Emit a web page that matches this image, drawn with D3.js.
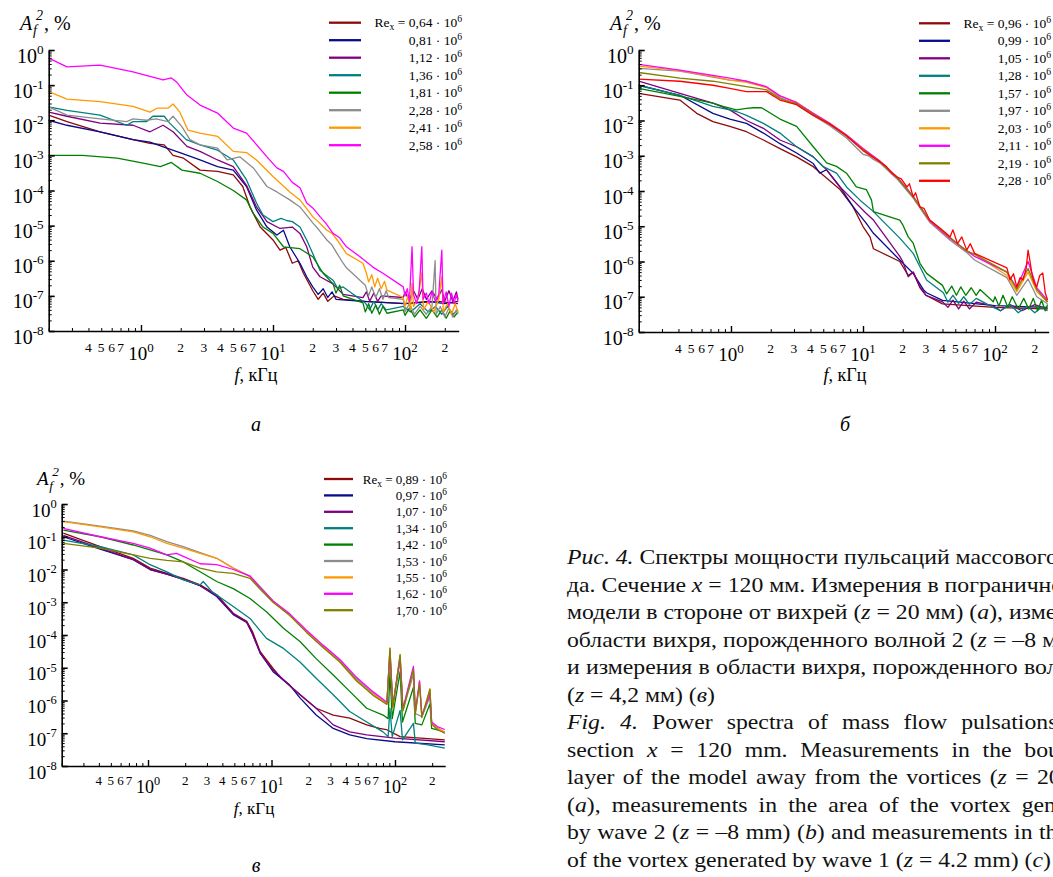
<!DOCTYPE html>
<html>
<head>
<meta charset="utf-8">
<script src="https://cdn.jsdelivr.net/npm/d3@7"></script>
<style>
  body { margin: 0; overflow: hidden; background: #fff; }
  svg { position: absolute; left: 0; top: 0; font-family: "Liberation Serif", "Times New Roman", serif; }
  .cap { position: absolute; left: 567px; top: 544px; width: 484px; font-family: "Liberation Serif", "Times New Roman", serif;
         font-size: 21px; line-height: 27.5px; color: #111; transform: scaleX(1.13); transform-origin: 0 0; }
  .cap div { text-align: justify; text-align-last: justify; white-space: nowrap; height: 27.5px; }
  .cap div.last { text-align-last: left; }
</style>
</head>
<body>
<svg id="chart" width="1053" height="877"></svg>
<div class="cap" id="caption"></div>
<script>
// ---- data: [f, kHz ; A_f^2, %] ----
var colorsA = ['#8b0a0a', '#0a0a8a', '#800080', '#008080', '#008000', '#8c8c8c', '#ff9900', '#ff00ff'];
var colorsB = ['#8b0a0a', '#0a0a8a', '#800080', '#008080', '#008000', '#8c8c8c', '#ff9900', '#ff00ff', '#808000', '#ff0000'];
var colorsC = ['#8b0a0a', '#0a0a8a', '#800080', '#008080', '#008000', '#8c8c8c', '#ff9900', '#ff00ff', '#808000'];

var reA = ['0,64', '0,81', '1,12', '1,36', '1,81', '2,28', '2,41', '2,58'];
var reB = ['0,96', '0,99', '1,05', '1,28', '1,57', '1,97', '2,03', '2,11', '2,19', '2,28'];
var reC = ['0,89', '0,97', '1,07', '1,34', '1,42', '1,53', '1,55', '1,62', '1,70'];

var seriesA = [
  // 0,64
  [[0.2,1.4e-2],[0.275,9.1e-3],[0.49,4.7e-3],[0.87,2.8e-3],[1.17,2.2e-3],[1.5,2.0e-3],[1.75,1.0e-3],[2.1,8.3e-4],[2.8,3.8e-4],[3.8,3.5e-4],[5,2.8e-4],[5.9,1.3e-4],[6.7,3.4e-5],[8,9.1e-6],[10,3.9e-6],[11.3,2.0e-6],[12.5,2.4e-6],[14,8.5e-7],[15.5,1.0e-6],[17,4.4e-7],[20,1.4e-7],[22,8e-8],[24,1.2e-7],[26,7e-8],[29,1.0e-7],[34,8e-8],[50,7e-8],[100,6e-8],[180,7e-8],[252,6e-8]],
  // 0,81
  [[0.2,1.0e-2],[0.275,7.2e-3],[0.49,4.7e-3],[0.87,2.8e-3],[1.17,2.4e-3],[1.57,1.6e-3],[1.97,1.2e-3],[2.8,7.4e-4],[3.8,4.8e-4],[5,3.8e-4],[6.3,1.3e-4],[7.5,2.8e-5],[9,9.1e-6],[10.7,5.4e-6],[12,7.4e-6],[13.4,2.5e-6],[16,8.5e-7],[18,3.5e-7],[20,1.8e-7],[22,1.1e-7],[24,1.6e-7],[26,9e-8],[28,1.3e-7],[30,8e-8],[48,7e-8],[100,6e-8],[150,7e-8],[200,6e-8],[252,7e-8]],
  // 1,12
  [[0.2,1.7e-2],[0.275,1.3e-2],[0.49,8.3e-3],[0.87,7.2e-3],[1.17,4.7e-3],[1.47,7.2e-3],[1.75,4.7e-3],[2.23,1.8e-3],[2.8,1.3e-3],[3.8,7.4e-4],[5,4.8e-4],[6.3,1.4e-4],[7.5,3.4e-5],[9,1.3e-5],[11.3,8.3e-6],[14,9.1e-6],[16,6.0e-6],[18,2.5e-6],[20,6.6e-7],[22.7,3.5e-7],[28.5,2.2e-7],[34,1.1e-7],[48,8.9e-8],[51,1.3e-7],[54,7e-8],[58,1.2e-7],[62,7e-8],[66,1.0e-7],[97,9e-8],[100,1.3e-7],[108,7e-8],[115,1.5e-7],[125,8e-8],[135,1.6e-7],[145,8e-8],[160,1.4e-7],[175,8e-8],[190,1.5e-7],[200,7e-8],[215,1.4e-7],[230,7e-8],[245,1.3e-7],[252,8e-8]],
  // 1,36
  [[0.2,2.4e-2],[0.275,1.9e-2],[0.49,1.4e-2],[0.78,7.2e-3],[0.87,9.1e-3],[1.1,9.1e-3],[1.23,1.3e-2],[1.5,1.3e-2],[1.65,8.3e-3],[1.97,4.3e-3],[2.2,2.8e-3],[2.8,2.0e-3],[3.8,1.4e-3],[5,7.4e-4],[6.3,2.0e-4],[7.5,4.4e-5],[8.4,2.0e-5],[10,1.3e-5],[11.5,1.6e-5],[12.7,1.4e-5],[14,1.3e-5],[16,9.1e-6],[18,3.9e-6],[20,1.6e-6],[22.7,5.4e-7],[25,4e-7],[28.5,2.8e-7],[31,1.6e-7],[34,1.8e-7],[50,6.3e-8],[54,4e-8],[58,7e-8],[62,4e-8],[66,6e-8],[72,4e-8],[97,5e-8],[110,3.5e-8],[130,6e-8],[150,3.5e-8],[170,5e-8],[190,3e-8],[210,5e-8],[230,3e-8],[252,4e-8]],
  // 1,81
  [[0.2,1.0e-3],[0.36,1.0e-3],[0.66,8.3e-4],[1.04,6.0e-4],[1.4,4.8e-4],[1.7,6.3e-4],[2.04,3.8e-4],[2.8,3.1e-4],[3.8,1.8e-4],[5,1.0e-4],[6.3,5.4e-5],[7.1,2.2e-5],[8.4,9.1e-6],[10,6.0e-6],[12,2.5e-6],[16,2.2e-6],[20,1.3e-6],[24,4.4e-7],[28.5,2.2e-7],[30,1.2e-7],[32,2.0e-7],[34,1.0e-7],[48,6.3e-8],[50,3.5e-8],[53,6e-8],[56,3.2e-8],[60,5.5e-8],[64,3e-8],[68,5e-8],[73,3.2e-8],[97,4e-8],[100,2.8e-8],[108,4.5e-8],[118,2.5e-8],[130,4e-8],[145,2.3e-8],[160,4e-8],[175,2.5e-8],[190,4e-8],[205,2.3e-8],[220,3.8e-8],[235,2.5e-8],[252,3.5e-8]],
  // 2,28
  [[0.2,2.4e-2],[0.275,1.4e-2],[0.49,1.1e-2],[0.78,9.1e-3],[0.87,1.1e-2],[1.1,1.0e-2],[1.3,1.1e-2],[1.6,9.1e-3],[1.75,1.3e-2],[2.04,6.6e-3],[2.35,2.8e-3],[2.8,2.0e-3],[3.8,1.6e-3],[4.5,7.4e-4],[5.6,9.1e-4],[7.1,4.4e-4],[9,1.3e-4],[10.7,9.1e-5],[13.4,5.4e-5],[16,3.4e-5],[20,1.2e-5],[22,8e-6],[25.6,3.9e-6],[28,2.8e-6],[30.6,1.6e-6],[34,8.5e-7],[36,6.3e-7],[50,2.0e-7],[53,1.0e-7],[56,1.8e-7],[60,9e-8],[64,1.6e-7],[68,8e-8],[72,1.4e-7],[75,9e-8],[97,8e-8],[100,3.5e-8],[108,6e-8],[118,3e-8],[130,5e-8],[145,3e-8],[160,5e-8],[169,1.0e-6],[172,3e-8],[185,5e-8],[200,2.5e-8],[215,4.5e-8],[230,2.5e-8],[245,4e-8],[252,3e-8]],
  // 2,41
  [[0.2,6.5e-2],[0.275,4.0e-2],[0.49,3.4e-2],[0.87,2.5e-2],[1.17,1.7e-2],[1.32,2.2e-2],[1.6,2.2e-2],[1.75,2.9e-2],[1.97,1.7e-2],[2.27,5.2e-3],[2.8,4.3e-3],[3.8,3.5e-3],[5,1.3e-3],[6.3,1.2e-3],[7.5,7.4e-4],[10,2.5e-4],[13.4,9.1e-5],[16,5.4e-5],[20,1.8e-5],[22,1.3e-5],[25.6,7.4e-6],[28,6e-6],[30.6,3.9e-6],[36,1.6e-6],[48,8.5e-7],[51,4.4e-7],[53,2.5e-7],[56,4e-7],[59,1.8e-7],[62,3.2e-7],[66,1.6e-7],[70,2.6e-7],[73,1.45e-7],[97,9e-8],[100,5e-8],[105,1.0e-7],[110,4e-8],[113,2.3e-7],[116,5e-8],[125,8e-8],[134,4.5e-7],[138,4e-8],[150,7e-8],[165,3.5e-8],[180,8e-8],[190,3.5e-7],[195,3.5e-8],[210,6e-8],[225,3e-8],[240,6e-8],[252,3.5e-8]],
  // 2,58
  [[0.2,5.9e-1],[0.275,3.3e-1],[0.49,3.7e-1],[0.87,2.4e-1],[1.47,1.4e-1],[1.7,1.6e-1],[1.87,1.2e-1],[2.23,5.2e-2],[2.8,2.7e-2],[3.8,1.6e-2],[5,6.0e-3],[6.3,4.3e-3],[9,9.1e-4],[10.7,4.4e-4],[12,3.5e-4],[14,1.7e-4],[16,1.2e-4],[18,4.4e-5],[20,3.2e-5],[22.7,1.8e-5],[25,1.2e-5],[28.5,6.0e-6],[32,4.5e-6],[36,2.5e-6],[45.6,1.3e-6],[57,6.6e-7],[68,4.4e-7],[97,1.8e-7],[100,1.0e-7],[104,1.6e-7],[108,7e-8],[113,2.5e-6],[116,1.1e-7],[122,6e-8],[128,1.4e-7],[134,2.5e-6],[137,8e-8],[145,1.2e-7],[152,6e-8],[160,1.3e-7],[170,7e-8],[180,1.1e-7],[190,2.0e-6],[194,6e-8],[205,1.3e-7],[215,5e-8],[225,1.2e-7],[235,6e-8],[245,1.1e-7],[252,7e-8]]
];

var seriesB = [
  // 0,96
  [[0.2,5.9e-2],[0.41,3.8e-2],[0.55,1.6e-2],[0.73,9.3e-3],[0.98,6.8e-3],[1.31,4.8e-3],[1.76,2.8e-3],[2.35,1.6e-3],[3.14,9.3e-4],[4.2,4.9e-4],[5,2.8e-4],[6.7,1.1e-4],[8.4,3.6e-5],[10,9.8e-6],[11.3,5.0e-6],[12,2.3e-6],[19,1.0e-6],[22,4.0e-7],[24,5.0e-7],[27,1.8e-7],[30,1.1e-7],[40,6.3e-8],[100,5e-8],[250,4.5e-8]],
  // 0,99
  [[0.2,1.0e-1],[0.41,5.2e-2],[0.73,1.6e-2],[0.98,1.1e-2],[1.31,8.3e-3],[1.76,4.4e-3],[2.35,2.2e-3],[3.14,1.2e-3],[4.2,6.0e-4],[4.7,3.2e-4],[5.3,4.0e-4],[6.7,1.3e-4],[8.4,3.6e-5],[10.6,1.2e-5],[12,6.3e-6],[19,1.1e-6],[24,4.6e-7],[29,1.5e-7],[30.3,1.3e-7],[40,7.9e-8],[100,5.6e-8],[250,5.0e-8]],
  // 1,05
  [[0.2,1.3e-1],[0.41,5.9e-2],[0.73,3.1e-2],[0.98,2.0e-2],[1.31,1.0e-2],[1.76,6.0e-3],[2.35,2.8e-3],[3.14,1.8e-3],[4.2,9.3e-4],[5.3,4.0e-4],[6.7,1.3e-4],[8.4,5.5e-5],[10.6,2.3e-5],[12,1.5e-5],[19,1.4e-6],[20,1.0e-6],[22,3.7e-7],[24,5.0e-7],[27,1.9e-7],[30,1.1e-7],[40,7.2e-8],[44,5e-8],[48,8e-8],[53,4.5e-8],[58,7.5e-8],[64,4.5e-8],[72,7e-8],[97,5.5e-8],[110,4e-8],[130,6e-8],[160,4e-8],[200,6e-8],[250,4.5e-8]],
  // 1,28
  [[0.2,1.0e-1],[0.41,5.2e-2],[0.73,2.5e-2],[0.98,2.0e-2],[1.1,1.8e-2],[1.31,1.4e-2],[1.76,8.3e-3],[2.35,4.4e-3],[3.14,1.8e-3],[4.2,9.3e-4],[5,4.9e-4],[6.3,3.2e-4],[7.5,1.3e-4],[9.5,5.5e-5],[12,2.6e-5],[19,4.6e-6],[24,1.7e-6],[27,7.1e-7],[30.3,3.0e-7],[40.6,1.3e-7],[44,7e-8],[48,1.1e-7],[53,6.5e-8],[58,1.0e-7],[64,6e-8],[72,9e-8],[97,5e-8],[110,4e-8],[130,6e-8],[150,3.5e-8],[175,5.5e-8],[200,3.5e-8],[225,5e-8],[250,4e-8]],
  // 1,57
  [[0.2,8.1e-2],[0.41,4.8e-2],[0.73,3.1e-2],[0.87,2.5e-2],[1.1,2.0e-2],[1.31,2.2e-2],[1.48,2.3e-2],[1.7,2.3e-2],[2.35,1.1e-2],[3.14,6.8e-3],[4.2,1.8e-3],[5.3,6.3e-4],[6.3,5.0e-4],[7.5,3.2e-4],[8.9,1.3e-4],[10.6,1.1e-4],[11.6,5.5e-5],[12,2.6e-5],[19,1.5e-5],[20,1.1e-5],[22,5.0e-6],[24,3.3e-6],[27,8.9e-7],[30.3,4.6e-7],[40,2.1e-7],[43,1.2e-7],[47,2e-7],[51,1.1e-7],[55,1.9e-7],[60,1.1e-7],[66,1.8e-7],[72,1.1e-7],[77,1.6e-7],[97,7.2e-8],[100,1.0e-7],[107,5.5e-8],[115,1.1e-7],[125,5e-8],[135,1.0e-7],[150,4.5e-8],[165,9e-8],[180,4.5e-8],[195,9e-8],[210,4e-8],[225,8e-8],[240,4e-8],[250,6e-8]],
  // 1,97
  [[0.2,3.0e-1],[0.41,2.5e-1],[0.73,1.7e-1],[0.98,1.4e-1],[1.31,1.3e-1],[1.86,8.7e-2],[2.35,4.5e-2],[3.14,2.8e-2],[4.2,1.4e-2],[5.6,7.1e-3],[7.5,3.2e-3],[10,1.1e-3],[11,1.0e-3],[12,7.9e-4],[13.4,6.3e-4],[18.1,2.2e-4],[24,6.3e-5],[32,1.3e-5],[45.7,4.0e-6],[61,1.8e-6],[70,1.1e-6],[123,3.5e-7],[146,1.1e-7],[178,3.2e-7],[207,1.0e-7],[250,6.3e-8]],
  // 2,03
  [[0.2,3.5e-1],[0.41,2.6e-1],[0.73,1.8e-1],[0.98,1.4e-1],[1.31,1.2e-1],[1.86,8.7e-2],[2.35,5.0e-2],[3.14,3.3e-2],[4.2,1.6e-2],[5.6,8.3e-3],[7.5,3.9e-3],[10,1.6e-3],[13.4,7.1e-4],[18.1,2.5e-4],[24,7.1e-5],[32,1.4e-5],[45.7,4.5e-6],[61,2.0e-6],[70,1.6e-6],[123,4.0e-7],[146,1.4e-7],[178,5.0e-7],[207,1.4e-7],[250,7.1e-8]],
  // 2,11
  [[0.2,3.9e-1],[0.41,2.7e-1],[0.73,1.9e-1],[0.98,1.6e-1],[1.31,1.3e-1],[1.86,9.1e-2],[2.35,5.0e-2],[3.14,3.2e-2],[4.2,1.6e-2],[5.6,8.3e-3],[7.5,3.9e-3],[10,1.6e-3],[13.4,7.1e-4],[18.1,2.5e-4],[24,7.1e-5],[32,1.4e-5],[45.7,4.5e-6],[61,2.0e-6],[70,1.4e-6],[123,5.0e-7],[146,1.8e-7],[178,1.0e-6],[207,1.8e-7],[250,7.9e-8]],
  // 2,19
  [[0.2,2.3e-1],[0.41,1.6e-1],[0.73,1.3e-1],[1.31,9.1e-2],[1.86,7.4e-2],[2.35,4.2e-2],[3.14,3.0e-2],[4.2,1.5e-2],[5.6,7.9e-3],[7.5,3.6e-3],[10,1.5e-3],[13.4,6.8e-4],[18.1,2.4e-4],[24,6.8e-5],[32,1.5e-5],[45.7,4.8e-6],[61,2.0e-6],[70,1.6e-6],[123,5.0e-7],[146,1.6e-7],[178,6.3e-7],[207,1.6e-7],[250,7.1e-8]],
  // 2,28
  [[0.2,1.5e-1],[0.41,1.3e-1],[0.73,1.0e-1],[0.98,8.1e-2],[1.31,6.6e-2],[1.86,6.6e-2],[2.35,3.8e-2],[3.14,2.8e-2],[4.2,1.4e-2],[5.6,7.9e-3],[7.5,3.7e-3],[10,1.4e-3],[13.4,6.8e-4],[15,5.0e-4],[16.5,3.2e-4],[18.1,2.5e-4],[19.5,2.2e-4],[21.5,1.3e-4],[22.5,1.6e-4],[24,6.8e-5],[25,8.9e-5],[27,3.5e-5],[29,3.2e-5],[32,1.5e-5],[38,9e-6],[45.7,5.0e-6],[48,7.9e-6],[52,3.2e-6],[56,5.0e-6],[61,2.1e-6],[65,3.2e-6],[70,1.7e-6],[123,6.6e-7],[130,3.0e-7],[138,4.5e-7],[146,1.9e-7],[155,3.5e-7],[163,3.0e-7],[172,6.3e-7],[178,2.1e-6],[182,1.3e-6],[190,4.7e-7],[198,2.5e-7],[207,1.9e-7],[218,4.0e-7],[230,4.7e-7],[240,1.3e-7],[250,8.1e-8]]
];

var seriesC = [
  // 0,89
  [[0.206,1.3e-1],[0.41,5.0e-2],[0.76,2.2e-2],[1.04,1.1e-2],[1.42,7.6e-3],[1.93,5.4e-3],[2.64,3.4e-3],[3.6,1.7e-3],[4.9,4.6e-4],[6.3,2.6e-4],[7,1.3e-4],[8.1,3.1e-5],[10.3,9.5e-6],[12,4.8e-6],[15,2.3e-6],[17,1.5e-6],[23,5.8e-7],[31.6,3.6e-7],[43,2.9e-7],[59,1.8e-7],[75,1.4e-7],[85,1.3e-7],[110,7.9e-8],[253,6.3e-8]],
  // 0,97
  [[0.206,1.0e-1],[0.41,4.2e-2],[0.76,2.0e-2],[1.04,1.0e-2],[1.42,7.2e-3],[1.93,5.0e-3],[2.64,3.2e-3],[3.6,1.5e-3],[4.9,4.2e-4],[6.3,2.4e-4],[7,1.1e-4],[8.1,2.8e-5],[10.3,7.6e-6],[14,3.0e-6],[17,1.2e-6],[23,3.6e-7],[31.6,1.4e-7],[43,8.9e-8],[59,6.9e-8],[100,5.5e-8],[253,4.4e-8]],
  // 1,07
  [[0.206,1.1e-1],[0.41,4.5e-2],[0.76,2.0e-2],[1.04,1.0e-2],[1.42,7.2e-3],[1.93,5.0e-3],[2.64,3.2e-3],[3.6,1.6e-3],[4.9,4.4e-4],[6.3,2.5e-4],[7,1.1e-4],[8.1,2.8e-5],[10.3,8.5e-6],[15,2.3e-6],[23,5.8e-7],[31.6,1.8e-7],[43,1.1e-7],[59,8.9e-8],[100,7.1e-8],[253,5.5e-8]],
  // 1,34
  [[0.206,7.9e-2],[0.41,5.0e-2],[0.76,2.8e-2],[1.04,1.4e-2],[1.42,8.5e-3],[1.93,4.8e-3],[2.64,3.4e-3],[2.8,4.3e-3],[3.3,2.1e-3],[4.9,7.4e-4],[6.7,3.2e-4],[9.1,7.9e-5],[12.5,3.9e-5],[17,1.5e-5],[23,4.8e-6],[31.6,1.5e-6],[43,4.6e-7],[59,2.2e-7],[80,1.1e-7],[88,7.9e-8],[91,5.8e-7],[95,7.9e-8],[110,5.0e-7],[115,6.3e-8],[141,2.0e-7],[146,5.0e-8],[180,4.5e-8],[253,3.5e-8]],
  // 1,42
  [[0.206,1.6e-1],[0.41,1.0e-1],[0.76,5.6e-2],[1.04,4.0e-2],[1.42,2.8e-2],[1.93,1.7e-2],[2.64,8.5e-3],[3.6,4.3e-3],[4.9,2.6e-3],[6.7,1.3e-3],[9.1,5.1e-4],[12.5,1.6e-4],[17,6.3e-5],[23,1.9e-5],[31.6,6.0e-6],[43,1.9e-6],[59,5.8e-7],[80,3.6e-7],[88,2.8e-7],[91,7.6e-6],[95,2.8e-7],[110,7.6e-6],[115,2.2e-7],[141,2.5e-6],[146,2.0e-7],[165,1.8e-7],[192,7.9e-7],[198,1.4e-7],[253,1.1e-7]],
  // 1,53
  [[0.206,3.0e-1],[0.41,2.1e-1],[0.76,1.5e-1],[1.04,1.1e-1],[1.42,7.1e-2],[1.93,5.0e-2],[2.64,3.3e-2],[3.6,2.2e-2],[4.9,1.1e-2],[6.7,6.3e-3],[8.1,3.0e-3],[10.3,1.1e-3],[14,4.1e-4],[19.2,1.3e-4],[26,4.7e-5],[35.8,1.7e-5],[49,4.5e-6],[67,1.6e-6],[86,7.9e-7],[91,2.5e-5],[96,6.3e-7],[110,1.6e-5],[116,5.0e-7],[141,6.3e-6],[146,4.0e-7],[165,3.2e-7],[192,1.3e-6],[198,2.0e-7],[253,1.0e-7]],
  // 1,55
  [[0.206,2.9e-1],[0.41,2.0e-1],[0.76,1.4e-1],[1.04,1.0e-1],[1.42,6.3e-2],[1.93,4.5e-2],[2.64,3.1e-2],[3.6,2.2e-2],[4.9,1.1e-2],[6.7,6.0e-3],[8.1,2.6e-3],[10.3,1.0e-3],[14,4.1e-4],[19.2,1.3e-4],[26,4.4e-5],[35.8,1.5e-5],[49,3.8e-6],[67,1.5e-6],[86,8.1e-7],[91,4.0e-5],[96,6.3e-7],[110,2.5e-5],[116,5.0e-7],[141,9.5e-6],[146,4.0e-7],[158,3.8e-6],[165,3.2e-7],[192,2.3e-6],[198,2.0e-7],[220,1.4e-7],[253,1.1e-7]],
  // 1,62
  [[0.206,1.8e-1],[0.41,1.0e-1],[0.76,6.3e-2],[1.04,4.5e-2],[1.42,2.8e-2],[1.7,3.1e-2],[1.93,2.5e-2],[2.64,1.5e-2],[3.6,1.4e-2],[4.9,1.0e-2],[6.7,6.3e-3],[8.1,2.8e-3],[10.3,1.1e-3],[14,4.5e-4],[19.2,1.4e-4],[26,5.0e-5],[35.8,1.8e-5],[49,5.0e-6],[67,1.8e-6],[86,8.9e-7],[91,3.2e-5],[96,7.1e-7],[110,2.0e-5],[116,5.6e-7],[141,1.1e-5],[146,4.5e-7],[158,4.0e-6],[165,3.5e-7],[192,1.6e-6],[198,2.2e-7],[220,1.6e-7],[253,1.3e-7]],
  // 1,70
  [[0.206,6.3e-2],[0.41,4.5e-2],[0.76,2.8e-2],[1.04,2.2e-2],[1.42,1.9e-2],[1.93,1.7e-2],[2.64,1.1e-2],[3.6,8.5e-3],[4.9,7.6e-3],[6.7,5.4e-3],[8.1,2.5e-3],[10.3,1.0e-3],[14,4.0e-4],[19.2,1.2e-4],[26,4.2e-5],[35.8,1.5e-5],[49,4.0e-6],[67,1.4e-6],[86,7.6e-7],[91,4.0e-5],[96,6.0e-7],[110,2.5e-5],[116,4.8e-7],[141,8.9e-6],[146,3.8e-7],[158,3.2e-6],[165,3.0e-7],[192,2.2e-6],[198,1.9e-7],[220,1.3e-7],[253,1.0e-7]]
];

var yDecades = [-8, -7, -6, -5, -4, -3, -2, -1, 0];
var xMajor = [1, 10, 100];
var xMinorLabels = [0.4, 0.5, 0.6, 0.7, 2, 3, 4, 5, 6, 7, 20, 30, 40, 50, 60, 70, 200];
var fDomain = [0.2, 255];

var captionLines = [
  '<i>Рис. 4.</i> Спектры мощности пульсаций массового расхо-',
  'да. Сечение <i>x</i> = 120 мм. Измерения в пограничном слое',
  'модели в стороне от вихрей (<i>z</i> = 20 мм) (<i>а</i>), измерения в',
  'области вихря, порожденного волной 2 (<i>z</i> = –8 мм) (<i>б</i>)',
  'и измерения в области вихря, порожденного волной 1',
  '(<i>z</i> = 4,2 мм) (<i>в</i>)',
  '<i>Fig. 4.</i> Power spectra of mass flow pulsations. The',
  'section <i>x</i> = 120 mm. Measurements in the boundary',
  'layer of the model away from the vortices (<i>z</i> = 20 mm)',
  '(<i>a</i>), measurements in the area of the vortex generated',
  'by wave 2 (<i>z</i> = –8 mm) (<i>b</i>) and measurements in the area',
  'of the vortex generated by wave 1 (<i>z</i> = 4.2 mm) (<i>c</i>)'
];

var svg = d3.select('#chart');

function minorTicks(lo, hi) {
  var out = [];
  for (var e = lo; e < hi; e++) {
    for (var k = 2; k <= 9; k++) out.push(k * Math.pow(10, e));
  }
  return out;
}

function leadDigit(v) {
  return String(Math.round(v / Math.pow(10, Math.floor(Math.log10(v) + 1e-9))));
}

function drawPanel(p) {
  var g = svg.append('g');
  var x = d3.scaleLog().domain(fDomain).range([p.left, p.right]);
  var y = d3.scaleLog().domain([1e-8, 1]).range([p.bottom, p.top]);
  var line = d3.line().x(function(d) { return x(d[0]); }).y(function(d) { return y(d[1]); });

  // curves
  g.append('g').selectAll('path').data(p.series).join('path')
    .attr('d', line)
    .attr('fill', 'none')
    .attr('stroke', function(d, i) { return p.colors[i]; })
    .attr('stroke-width', 1.3)
    .attr('stroke-linejoin', 'round');

  // y axis (ticks point inward)
  var ya = g.append('g').attr('transform', 'translate(' + p.left + ',0)');
  ya.call(d3.axisRight(y).tickValues(minorTicks(-8, 0)).tickSize(3).tickSizeOuter(0).tickFormat(''));
  ya.select('.domain').remove();
  var ya2 = g.append('g').attr('transform', 'translate(' + p.left + ',0)');
  ya2.call(d3.axisRight(y).tickValues(yDecades.map(function(e) { return Math.pow(10, e); }))
    .tickSize(6).tickSizeOuter(0).tickFormat(''));
  ya2.select('.domain').attr('stroke-width', 1.6);
  ya2.selectAll('.tick line').attr('stroke-width', 1.6);

  // x axis
  var xa = g.append('g').attr('transform', 'translate(0,' + p.bottom + ')');
  xa.call(d3.axisTop(x).tickValues(minorTicks(-1, 3).filter(function(v) { return v >= 0.2 && v <= 255; }))
    .tickSize(3).tickSizeOuter(0).tickFormat(''));
  xa.select('.domain').remove();
  var xa2 = g.append('g').attr('transform', 'translate(0,' + p.bottom + ')');
  xa2.call(d3.axisTop(x).tickValues(xMajor).tickSize(6).tickSizeOuter(0).tickFormat(''));
  xa2.select('.domain').attr('stroke-width', 1.6);
  xa2.selectAll('.tick line').attr('stroke-width', 1.4);

  // y tick labels
  g.append('g').selectAll('text').data(yDecades).join('text')
    .attr('x', p.left - 5)
    .attr('y', function(e) { return y(Math.pow(10, e)) + p.yLabDy; })
    .attr('text-anchor', 'end')
    .attr('font-size', p.fsY)
    .each(function(e) {
      var t = d3.select(this);
      t.append('tspan').text('10');
      t.append('tspan').attr('dy', -p.fsY * 0.45).attr('font-size', p.fsY * 0.66).text(e);
    });

  // x tick labels
  g.append('g').selectAll('text').data(xMajor).join('text')
    .attr('x', function(v) { return x(v); })
    .attr('y', p.bottom + p.xMajDy)
    .attr('text-anchor', 'middle')
    .attr('font-size', p.fsX)
    .each(function(v) {
      var t = d3.select(this);
      t.append('tspan').text('10');
      t.append('tspan').attr('dy', -p.fsX * 0.42).attr('font-size', p.fsX * 0.68).text(Math.round(Math.log10(v)));
    });
  g.append('g').selectAll('text').data(xMinorLabels).join('text')
    .attr('x', function(v) { return x(v); })
    .attr('y', p.bottom + p.xMinDy)
    .attr('text-anchor', 'middle')
    .attr('font-size', p.fsMinor)
    .text(leadDigit);

  // axis titles
  var s = p.titleScale;
  var yt = g.append('g').attr('transform', 'translate(' + p.yTitle[0] + ',' + p.yTitle[1] + ')');
  yt.append('text').attr('font-size', 20 * s).attr('font-style', 'italic').text('A');
  yt.append('text').attr('x', 16 * s).attr('y', -10 * s).attr('font-size', 14 * s).attr('font-style', 'italic').text('2');
  yt.append('text').attr('x', 13 * s).attr('y', 5 * s).attr('font-size', 14 * s).attr('font-style', 'italic').text('f');
  yt.append('text').attr('x', 24 * s).attr('font-size', 20 * s).text(', %');

  var xt = g.append('text').attr('x', p.xTitle[0]).attr('y', p.xTitle[1])
    .attr('text-anchor', 'middle').attr('font-size', 18 * s);
  xt.append('tspan').attr('font-style', 'italic').text('f');
  xt.append('tspan').text(', кГц');

  // legend
  var lg = g.append('g');
  p.labels.forEach(function(lab, i) {
    var ly = p.legY + i * p.legStep;
    lg.append('line').attr('x1', p.legX[0]).attr('x2', p.legX[1]).attr('y1', ly).attr('y2', ly)
      .attr('stroke', p.colors[i]).attr('stroke-width', 2.3);
    var t = lg.append('text').attr('x', p.legRight).attr('y', ly + 4.5)
      .attr('text-anchor', 'end').attr('font-size', p.fsLeg);
    if (i === 0) {
      t.append('tspan').text('Re');
      t.append('tspan').attr('dy', 3).attr('font-size', p.fsLeg * 0.72).text('x');
      t.append('tspan').attr('dy', -3).text(' = ' + lab + ' · 10');
    } else {
      t.append('tspan').text(lab + ' · 10');
    }
    t.append('tspan').attr('dy', -5).attr('font-size', p.fsLeg * 0.72).text('6');
  });

  // panel letter
  g.append('text').attr('x', p.letter[0]).attr('y', p.letter[1])
    .attr('text-anchor', 'middle').attr('font-size', 20).attr('font-style', 'italic').text(p.letter[2]);
}

drawPanel({
  series: seriesA, colors: colorsA, labels: reA,
  left: 48.7, right: 458.7, top: 50, bottom: 331,
  yLabDy: 12.5, xMajDy: 29, xMinDy: 21, fsY: 20, fsX: 19, fsMinor: 13.5,
  yTitle: [20, 30], xTitle: [256, 381], titleScale: 1,
  legX: [329, 361], legY: 22.7, legStep: 17.5, legRight: 462, fsLeg: 13.5,
  letter: [256, 431, 'а']
});
drawPanel({
  series: seriesB, colors: colorsB, labels: reB,
  left: 638.7, right: 1048.7, top: 50, bottom: 332,
  yLabDy: 12.5, xMajDy: 29, xMinDy: 21, fsY: 20, fsX: 19, fsMinor: 13.5,
  yTitle: [610, 30], xTitle: [845, 381], titleScale: 1,
  legX: [919, 950], legY: 23.3, legStep: 17.5, legRight: 1051, fsLeg: 13.5,
  letter: [845, 431, 'б']
});
drawPanel({
  series: seriesC, colors: colorsC, labels: reC,
  left: 61.7, right: 445.2, top: 504, bottom: 766,
  yLabDy: 12.5, xMajDy: 27, xMinDy: 19, fsY: 19, fsX: 18, fsMinor: 13,
  yTitle: [37, 485], xTitle: [254, 814], titleScale: 0.95,
  legX: [324, 353], legY: 479, legStep: 16.4, legRight: 447, fsLeg: 13,
  letter: [256, 872, 'в']
});

// caption
d3.select('#caption').selectAll('div').data(captionLines).join('div')
  .classed('last', function(d, i) { return i === 5 || i === 11; })
  .html(function(d) { return d; });
</script>
</body>
</html>
